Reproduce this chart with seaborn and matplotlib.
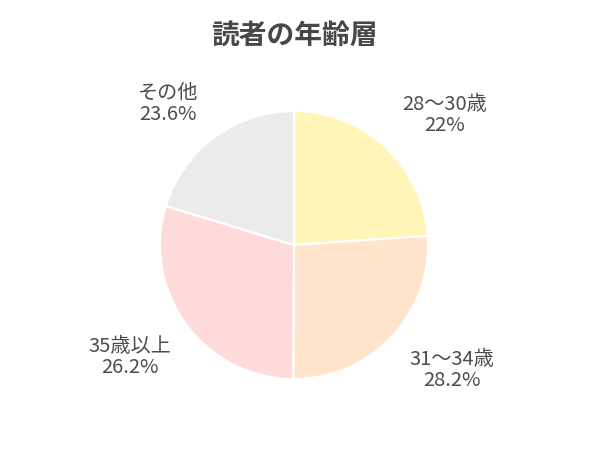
import seaborn as sns
import matplotlib.pyplot as plt

categories = ["28～30歳", "31～34歳", "35歳以上", "その他"]
# percentages printed in the labels
label_pct = ["22%", "28.2%", "26.2%", "23.6%"]
# wedge sizes as drawn in the picture
values = [23.9, 26.2, 29.6, 20.3]
colors = ["#FFF5B8", "#FFE3CB", "#FFDADA", "#EBEBEB"]
title = "読者の年齢層"

sns.set_theme(style="white")
plt.rcParams['font.family'] = ['Noto Sans CJK JP', 'DejaVu Sans']

fig = plt.figure(figsize=(6, 4.55), dpi=100)
# pie centre about (294, 245) px, radius about 134 px
ax = fig.add_axes([0.49 - 0.2233, 0.4615 - 0.2945, 0.4467, 0.589])

labels = [f"{c}\n{p}" for c, p in zip(categories, label_pct)]
wedges, texts = ax.pie(values, labels=labels, colors=colors, startangle=90,
                       counterclock=False,
                       wedgeprops=dict(edgecolor="white", linewidth=1.6),
                       textprops=dict(color="#4d4d4d", fontsize=14.5, ha="center",
                                      va="center", linespacing=1.0))
# label placement (in units of the pie radius), as in the reference
label_pos = [(1.127, 0.97), (1.18, -0.93), (-1.224, -0.836), (-0.94, 1.052)]
for t, pos in zip(texts, label_pos):
    t.set_position(pos)

ax.set_xlim(-1, 1)
ax.set_ylim(-1, 1)
ax.set_aspect("equal")

fig.text(0.49, 1 - 36 / 455, title, ha="center", va="center",
         fontsize=20, fontweight="bold", color="#474747")

plt.savefig("out.png", dpi=100)
